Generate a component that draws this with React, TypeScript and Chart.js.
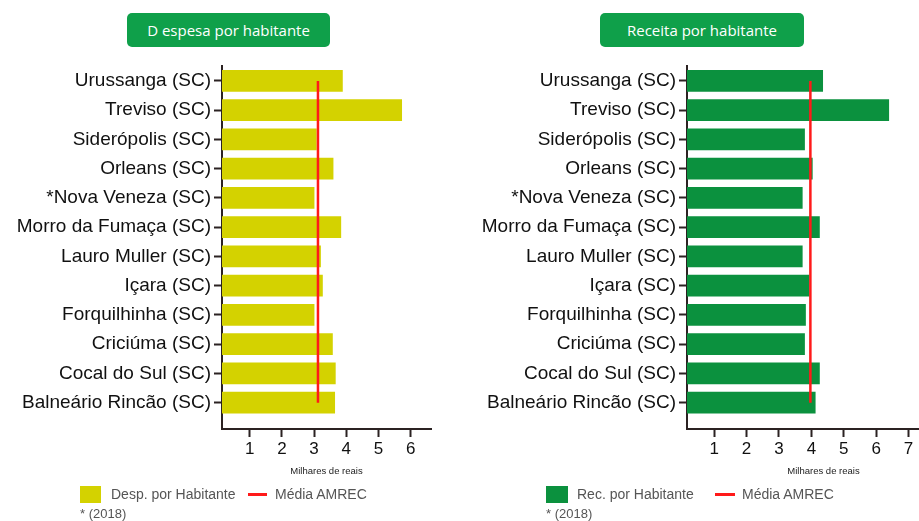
import React, { useEffect, useRef } from 'react';
import { Chart, registerables } from 'chart.js';
Chart.register(...registerables);

const categories = [
  'Urussanga (SC)', 'Treviso (SC)', 'Siderópolis (SC)', 'Orleans (SC)', '*Nova Veneza (SC)',
  'Morro da Fumaça (SC)', 'Lauro Muller (SC)', 'Içara (SC)', 'Forquilhinha (SC)', 'Criciúma (SC)',
  'Cocal do Sul (SC)', 'Balneário Rincão (SC)',
];
const despesa = [3.88, 5.72, 3.07, 3.59, 3.0, 3.83, 3.2, 3.26, 3.0, 3.57, 3.66, 3.64];
const receita = [4.35, 6.39, 3.79, 4.03, 3.72, 4.25, 3.72, 3.93, 3.82, 3.79, 4.25, 4.12];
const mediaDespesa = 3.12;
const mediaReceita = 3.97;
const ticksDespesa = [1, 2, 3, 4, 5, 6];
const ticksReceita = [1, 2, 3, 4, 5, 6, 7, 8];

const FONT = '"Liberation Sans", Arial, Helvetica, sans-serif';
const AXIS = '#2b2222';

if (typeof document !== 'undefined') {
  document.body.style.margin = '0';
  document.body.style.overflow = 'hidden';
}

type Cfg = {
  values: number[];
  media: number;
  color: string;
  label: string;
  xMin: number;
  xMax: number;
  xTicks: number[];
  yWidth: number;
  padRight: number;
};

function HBar({ cfg, width, left }: { cfg: Cfg; width: number; left: number }) {
  const ref = useRef<HTMLCanvasElement | null>(null);
  useEffect(() => {
    if (!ref.current) return;
    const chart = new Chart(ref.current, {
      type: 'bar',
      data: {
        datasets: [
          {
            type: 'line',
            label: 'Média AMREC',
            data: [
              { x: cfg.media, y: 0 },
              { x: cfg.media, y: categories.length - 1 },
            ],
            borderColor: '#ff1a1a',
            borderWidth: 2.5,
            pointRadius: 0,
            order: 0,
            indexAxis: 'y',
          } as any,
          {
            type: 'bar',
            label: cfg.label,
            data: cfg.values.map((v, i) => ({ x: v, y: i })),
            backgroundColor: cfg.color,
            barThickness: 21,
            indexAxis: 'y',
            order: 1,
          } as any,
        ],
      },
      options: {
        indexAxis: 'y',
        animation: false,
        responsive: false,
        maintainAspectRatio: false,
        layout: { padding: { top: 66, right: cfg.padRight, bottom: 41, left: 0 } },
        plugins: { legend: { display: false }, tooltip: { enabled: false } },
        scales: {
          x: {
            type: 'linear',
            position: 'bottom',
            offset: false,
            min: cfg.xMin,
            max: cfg.xMax,
            afterBuildTicks: (s: any) => {
              s.ticks = cfg.xTicks.map((v) => ({ value: v }));
            },
            afterFit: (s: any) => {
              s.height = 51;
            },
            grid: { offset: false, drawOnChartArea: false, tickLength: 8, tickColor: AXIS, tickWidth: 2 },
            border: { color: AXIS, width: 2 },
            ticks: { font: { family: FONT, size: 17 }, color: '#111', padding: 2, autoSkip: false, maxRotation: 0 },
            title: {
              display: true,
              text: 'Milhares de reais',
              font: { family: FONT, size: 9.5 },
              color: '#222',
              padding: { top: 0, bottom: 3 },
            },
          },
          y: {
            type: 'linear',
            reverse: true,
            offset: false,
            min: -0.51,
            max: 11.9,
            afterBuildTicks: (s: any) => {
              s.ticks = categories.map((_, i) => ({ value: i }));
            },
            afterFit: (s: any) => {
              s.width = cfg.yWidth;
            },
            grid: { offset: false, drawOnChartArea: false, tickLength: 8, tickColor: AXIS, tickWidth: 2 },
            border: { color: AXIS, width: 2 },
            ticks: {
              autoSkip: false,
              padding: 3,
              color: '#111',
              font: { family: FONT, size: 19 },
              callback: (v: any) => categories[Math.round(Number(v))] ?? '',
            },
          },
        },
      } as any,
    });
    return () => chart.destroy();
  }, []);
  return (
    <canvas
      ref={ref}
      width={width}
      height={521}
      style={{ position: 'absolute', left, top: 0, width, height: 521 }}
    />
  );
}

const pill: React.CSSProperties = {
  position: 'absolute',
  top: 13,
  height: 34,
  width: 203,
  background: '#0fa04a',
  borderRadius: 5,
  color: '#fff',
  fontFamily: '"Open Sans", "Noto Sans", sans-serif',
  fontSize: 15,
  lineHeight: '34px',
  textAlign: 'center',
};

const legText: React.CSSProperties = {
  position: 'absolute',
  fontFamily: FONT,
  fontSize: 14,
  color: '#555',
  lineHeight: '16px',
  whiteSpace: 'nowrap',
};

export default function App() {
  const left: Cfg = {
    values: despesa,
    media: mediaDespesa,
    color: '#d4d200',
    label: 'Desp. por Habitante',
    xMin: 0.14,
    xMax: 6.63,
    xTicks: ticksDespesa,
    yWidth: 222,
    padRight: 29,
  };
  const right: Cfg = {
    values: receita,
    media: mediaReceita,
    color: '#0b913e',
    label: 'Rec. por Habitante',
    xMin: 0.16,
    xMax: 8.59,
    xTicks: ticksReceita,
    yWidth: 227,
    padRight: 0,
  };
  return (
    <div style={{ position: 'relative', width: 919, height: 521, overflow: 'hidden', background: '#fff' }}>
      <HBar cfg={left} width={460} left={0} />
      <HBar cfg={right} width={500} left={460} />
      <div style={{ ...pill, left: 127 }}>D espesa por habitante</div>
      <div style={{ ...pill, left: 600, width: 204 }}>Receita por habitante</div>

      <div style={{ position: 'absolute', left: 80, top: 486, width: 21, height: 17, background: '#d4d200' }} />
      <div style={{ ...legText, left: 111, top: 486 }}>Desp. por Habitante</div>
      <div style={{ position: 'absolute', left: 248, top: 493, width: 19, height: 3, background: '#ff1a1a' }} />
      <div style={{ ...legText, left: 275, top: 486 }}>Média AMREC</div>
      <div style={{ ...legText, left: 80, top: 506, fontSize: 13 }}>* (2018)</div>

      <div style={{ position: 'absolute', left: 546, top: 486, width: 22, height: 17, background: '#0b913e' }} />
      <div style={{ ...legText, left: 577, top: 486 }}>Rec. por Habitante</div>
      <div style={{ position: 'absolute', left: 715, top: 493, width: 20, height: 3, background: '#ff1a1a' }} />
      <div style={{ ...legText, left: 742, top: 486 }}>Média AMREC</div>
      <div style={{ ...legText, left: 546, top: 506, fontSize: 13 }}>* (2018)</div>
    </div>
  );
}
